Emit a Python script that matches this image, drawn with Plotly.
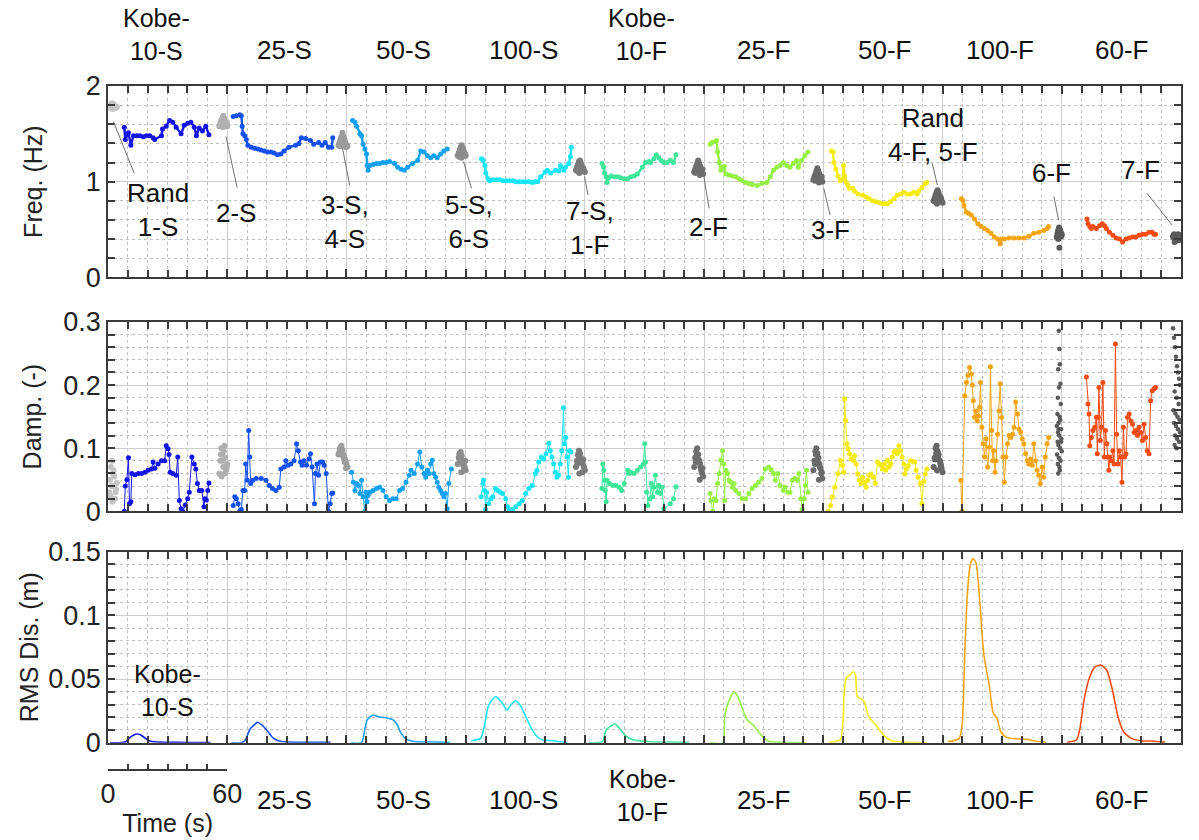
import plotly.graph_objects as go

# ---------------- data ----------------
# Kobe shake-table tests (each occupies a 60 s slot on the time axis)
test_names = ["Kobe-10-S", "25-S", "50-S", "100-S", "Kobe-10-F", "25-F", "50-F", "100-F", "60-F"]
test_start = [0, 60, 120, 180, 240, 300, 360, 420, 480]  # s

# --- Kobe-10-S
s1_ft = [8.2, 8.7, 10.3, 11.5, 12.8, 14.5, 16.1, 17.8, 19.4, 21.0, 22.7, 23.5, 26.9, 27.4, 29.3, 31.0, 32.6, 34.3, 36.8, 38.4, 40.1, 41.7, 43.4, 44.5, 45.9, 47.5, 49.2, 50.8]
s1_f = [1.57, 1.44, 1.51, 1.38, 1.48, 1.48, 1.48, 1.47, 1.48, 1.48, 1.46, 1.44, 1.48, 1.55, 1.58, 1.64, 1.62, 1.57, 1.50, 1.59, 1.61, 1.62, 1.57, 1.48, 1.56, 1.53, 1.58, 1.49]
s1_dt = [8.2, 8.7, 9.5, 10.3, 10.8, 11.5, 12.0, 13.6, 15.3, 16.9, 18.6, 20.2, 21.9, 22.7, 23.6, 25.2, 26.9, 28.5, 29.3, 30.2, 30.7, 31.3, 32.6, 34.3, 35.1, 35.9, 36.8, 37.6, 38.9, 40.1, 40.9, 42.2, 43.4, 44.2, 45.0, 45.9, 47.2, 48.3, 48.8, 49.5, 50.2, 50.8]
s1_d = [0.0, 0.04, 0.05, 0.085, 0.012, 0.015, 0.06, 0.058, 0.06, 0.06, 0.062, 0.065, 0.067, 0.078, 0.068, 0.075, 0.08, 0.08, 0.104, 0.099, 0.09, 0.062, 0.06, 0.057, 0.086, 0.017, 0.004, 0.0, 0.01, 0.02, 0.03, 0.086, 0.075, 0.067, 0.044, 0.033, 0.033, 0.007, 0.02, 0.018, 0.033, 0.045]
s1_rt = [1, 6, 9, 11, 13, 14.5, 16, 18, 20, 22, 25, 30, 40, 51.6]
s1_r = [0, 0, 0.0008, 0.004, 0.006, 0.0068, 0.0065, 0.0045, 0.002, 0.001, 0.0005, 0.0003, 0.0002, 0.0002]

# --- 25-S
s2_ft = [3.0, 4.6, 6.3, 7.1, 7.5, 7.9, 8.8, 9.6, 10.4, 12.1, 13.7, 15.4, 17.0, 18.7, 20.3, 22.0, 23.6, 25.3, 27.0, 28.6, 31.1, 34.4, 36.1, 37.3, 39.4, 41.9, 43.5, 46.0, 47.7, 49.3, 51.0, 52.6, 53.1]
s2_f = [1.68, 1.69, 1.70, 1.69, 1.58, 1.50, 1.48, 1.44, 1.38, 1.36, 1.35, 1.34, 1.33, 1.32, 1.31, 1.31, 1.30, 1.28, 1.29, 1.32, 1.36, 1.38, 1.40, 1.46, 1.45, 1.43, 1.39, 1.41, 1.38, 1.41, 1.36, 1.36, 1.46]
s2_dt = [3.0, 3.8, 4.6, 5.5, 6.3, 7.1, 7.9, 8.8, 9.3, 10.1, 10.8, 11.3, 11.8, 12.9, 14.6, 17.1, 19.5, 21.2, 22.8, 24.5, 26.2, 27.0, 28.6, 29.5, 30.6, 32.0, 33.6, 34.9, 35.8, 36.9, 37.7, 38.6, 39.9, 41.1, 41.9, 42.7, 43.9, 44.4, 45.2, 46.0, 46.9, 48.0, 48.8, 49.8, 51.0, 51.8, 52.6, 53.1]
s2_d = [0.009, 0.023, 0.020, 0.012, 0.0, 0.003, 0.033, 0.033, 0.075, 0.049, 0.128, 0.086, 0.044, 0.049, 0.052, 0.052, 0.049, 0.041, 0.036, 0.033, 0.038, 0.067, 0.07, 0.08, 0.073, 0.075, 0.08, 0.107, 0.096, 0.078, 0.073, 0.08, 0.073, 0.083, 0.091, 0.07, 0.012, 0.06, 0.075, 0.057, 0.078, 0.078, 0.073, 0.06, 0.0, 0.012, 0.028, 0.029]
s2_rt = [2, 7, 9, 11.6, 14, 15, 17.4, 20.1, 22.9, 25.7, 30.5, 40, 52]
s2_r = [0, 0, 0.002, 0.011, 0.0145, 0.016, 0.014, 0.0095, 0.004, 0.0015, 0.0005, 0.0003, 0.0003]

# --- 50-S
s3_ft = [3.1, 4.3, 5.1, 6.8, 7.6, 8.4, 9.3, 10.1, 10.4, 10.9, 11.8, 13.4, 15.1, 16.7, 18.4, 20.0, 21.7, 24.2, 25.8, 27.5, 29.1, 30.8, 33.3, 35.8, 37.4, 39.1, 40.7, 42.4, 44.0, 45.7, 47.4, 49.0, 50.7]
s3_f = [1.64, 1.62, 1.58, 1.50, 1.48, 1.39, 1.34, 1.29, 1.17, 1.12, 1.17, 1.18, 1.19, 1.19, 1.20, 1.20, 1.21, 1.19, 1.15, 1.13, 1.12, 1.15, 1.19, 1.22, 1.32, 1.31, 1.27, 1.25, 1.27, 1.25, 1.29, 1.32, 1.34]
s3_dt = [2.6, 3.5, 4.3, 5.1, 6.0, 6.8, 7.6, 8.4, 9.3, 9.8, 10.4, 10.9, 11.8, 13.4, 15.1, 16.7, 18.4, 20.0, 21.7, 23.3, 25.0, 26.7, 28.3, 30.0, 31.6, 32.5, 34.1, 35.8, 36.9, 37.9, 39.1, 39.9, 40.7, 41.6, 42.4, 43.2, 44.0, 44.9, 45.7, 46.5, 47.4, 48.2, 49.0, 49.8, 50.7, 51.5, 52.8]
s3_d = [0.062, 0.046, 0.033, 0.044, 0.041, 0.028, 0.049, 0.023, 0.0, 0.03, 0.015, 0.025, 0.03, 0.033, 0.036, 0.038, 0.033, 0.023, 0.017, 0.02, 0.02, 0.033, 0.036, 0.046, 0.057, 0.065, 0.06, 0.075, 0.094, 0.07, 0.06, 0.054, 0.065, 0.06, 0.075, 0.081, 0.06, 0.054, 0.046, 0.038, 0.033, 0.028, 0.023, 0.028, 0.004, 0.044, 0.067]
s3_rt = [2.5, 7.6, 9.5, 10.4, 13.3, 16.1, 19.9, 23.7, 25.6, 27.5, 30.3, 35.1, 44.5, 52.2]
s3_r = [0, 0, 0.0126, 0.0178, 0.0217, 0.0204, 0.0196, 0.0178, 0.0139, 0.0073, 0.0026, 0.0008, 0.0005, 0.0002]

# --- 100-S
s4_ft = [8.0, 8.8, 9.7, 10.1, 11.3, 12.1, 13.8, 15.5, 17.1, 18.8, 20.4, 22.0, 23.7, 25.3, 27.0, 28.7, 30.3, 32.0, 33.7, 35.0, 36.2, 37.8, 40.0, 41.1, 42.8, 45.3, 46.9, 47.7, 49.4, 50.2, 51.9, 52.7, 53.2]
s4_f = [1.24, 1.22, 1.17, 1.09, 1.03, 1.01, 1.02, 1.02, 1.02, 1.01, 1.01, 1.01, 1.01, 1.0, 1.0, 1.0, 1.0, 1.0, 0.99, 1.0, 1.0, 1.05, 1.10, 1.12, 1.09, 1.12, 1.11, 1.17, 1.12, 1.15, 1.19, 1.26, 1.36]
s4_dt = [7.8, 8.7, 9.0, 9.5, 10.0, 10.6, 11.6, 12.8, 13.6, 15.0, 16.1, 17.3, 18.6, 20.2, 21.1, 21.9, 23.6, 25.2, 26.9, 28.5, 30.2, 31.8, 33.5, 35.1, 35.9, 36.8, 38.1, 39.3, 40.4, 41.8, 42.6, 43.4, 44.3, 45.1, 45.9, 46.7, 47.6, 48.4, 49.2, 49.7, 50.4, 51.0, 51.7, 52.2, 53.0]
s4_d = [0.023, 0.044, 0.049, 0.033, 0.003, 0.03, 0.012, 0.02, 0.023, 0.036, 0.033, 0.03, 0.028, 0.02, 0.007, 0.003, 0.003, 0.007, 0.012, 0.017, 0.028, 0.036, 0.041, 0.06, 0.065, 0.078, 0.086, 0.083, 0.091, 0.108, 0.096, 0.086, 0.075, 0.062, 0.054, 0.057, 0.075, 0.096, 0.164, 0.107, 0.117, 0.086, 0.054, 0.096, 0.094]
s4_rt = [2.8, 7.5, 9.4, 11.3, 13.2, 15.1, 18.0, 20.8, 22.7, 25.0, 27.4, 30.3, 33.1, 36.0, 38.8, 43.5, 47.4, 51.1]
s4_r = [0.0016, 0.0034, 0.0126, 0.0283, 0.0335, 0.0361, 0.0322, 0.0257, 0.0296, 0.0330, 0.0296, 0.0204, 0.0113, 0.0047, 0.0021, 0.0016, 0.0008, 0.0]

# --- Kobe-10-F
s5_ft = [8.6, 9.5, 9.9, 10.7, 11.2, 11.9, 13.2, 14.8, 16.5, 18.1, 19.8, 21.5, 23.1, 24.8, 26.4, 28.9, 30.6, 32.2, 33.0, 34.7, 36.0, 37.2, 38.4, 39.7, 41.3, 43.0, 44.6, 45.8]
s5_f = [1.19, 1.15, 1.09, 1.05, 0.99, 1.04, 1.06, 1.05, 1.05, 1.04, 1.03, 1.03, 1.05, 1.06, 1.08, 1.15, 1.20, 1.21, 1.20, 1.24, 1.28, 1.25, 1.22, 1.20, 1.20, 1.22, 1.20, 1.28]
s5_dt = [8.6, 9.0, 9.5, 9.9, 10.2, 10.7, 11.2, 12.4, 14.0, 15.7, 17.3, 18.5, 19.8, 21.5, 22.3, 23.1, 24.8, 26.4, 28.1, 29.4, 30.1, 30.6, 31.1, 31.7, 32.7, 33.4, 34.1, 34.7, 35.5, 36.4, 37.2, 38.0, 38.9, 39.7, 43.0, 44.6, 45.8]
s5_d = [0.036, 0.075, 0.065, 0.049, 0.033, 0.015, 0.049, 0.044, 0.041, 0.041, 0.038, 0.033, 0.044, 0.065, 0.060, 0.062, 0.060, 0.065, 0.07, 0.075, 0.107, 0.078, 0.03, 0.009, 0.02, 0.044, 0.023, 0.038, 0.057, 0.03, 0.041, 0.028, 0.038, 0.004, 0.012, 0.02, 0.039]
s5_rt = [2, 8.8, 10.7, 12.6, 15.1, 17.4, 20.2, 23.1, 26.9, 32.6, 42.1, 52.5]
s5_r = [0, 0.0008, 0.01, 0.0126, 0.0147, 0.0113, 0.006, 0.0029, 0.0016, 0.0008, 0.0005, 0.0002]

# --- 25-F
s6_ft = [3.0, 4.0, 5.6, 6.3, 6.8, 7.6, 8.4, 9.3, 10.1, 10.9, 12.5, 14.2, 15.9, 17.5, 19.2, 20.9, 22.5, 24.2, 26.7, 29.1, 31.6, 33.3, 34.9, 36.6, 38.2, 39.9, 41.6, 43.2, 44.9, 46.5, 47.4, 49.0, 50.7, 52.3]
s6_f = [1.39, 1.41, 1.42, 1.43, 1.31, 1.20, 1.12, 1.15, 1.16, 1.08, 1.07, 1.06, 1.05, 1.03, 1.01, 0.99, 0.98, 0.97, 0.96, 0.98, 0.99, 1.05, 1.12, 1.15, 1.17, 1.20, 1.17, 1.15, 1.19, 1.22, 1.15, 1.22, 1.27, 1.31]
s6_dt = [3.0, 3.5, 4.3, 5.1, 6.0, 6.8, 7.6, 8.4, 9.3, 9.8, 10.3, 10.9, 11.8, 12.6, 13.4, 14.2, 15.1, 15.9, 17.5, 19.2, 20.9, 22.5, 24.2, 25.8, 27.5, 29.1, 30.8, 32.5, 33.8, 34.9, 35.8, 37.1, 38.2, 39.9, 40.7, 42.1, 43.2, 44.4, 45.7, 47.0, 47.7, 48.7, 49.3, 50.3, 51.0, 51.5, 52.3]
s6_d = [0.028, 0.017, 0.0, 0.02, 0.017, 0.044, 0.06, 0.081, 0.096, 0.075, 0.017, 0.065, 0.06, 0.049, 0.046, 0.038, 0.044, 0.033, 0.028, 0.02, 0.02, 0.028, 0.036, 0.041, 0.046, 0.052, 0.067, 0.07, 0.066, 0.06, 0.049, 0.06, 0.041, 0.033, 0.038, 0.03, 0.03, 0.049, 0.052, 0.049, 0.06, 0.02, 0.003, 0.02, 0.041, 0.065, 0.03]
s6_rt = [2.8, 9.4, 10.4, 12.3, 15.1, 17.0, 18.9, 21.7, 24.6, 27.4, 30.3, 33.1, 38.8, 51.1]
s6_r = [0, 0, 0.0204, 0.0322, 0.040, 0.0361, 0.0283, 0.0178, 0.0139, 0.0086, 0.0034, 0.001, 0.0003, 0]

# --- 50-F
s7_ft = [4.1, 4.9, 5.3, 6.3, 7.4, 8.6, 9.9, 10.2, 10.7, 11.6, 12.4, 13.2, 14.9, 15.7, 17.4, 19.8, 21.5, 23.1, 24.8, 26.5, 28.1, 29.8, 31.0, 32.3, 33.9, 35.6, 37.2, 38.9, 40.5, 42.2, 43.8, 45.5, 47.2, 48.0, 49.6, 51.3, 52.1]
s7_f = [1.32, 1.31, 1.20, 1.13, 1.06, 1.01, 1.03, 1.17, 1.06, 0.99, 0.96, 0.93, 0.93, 0.90, 0.87, 0.86, 0.84, 0.82, 0.80, 0.79, 0.78, 0.77, 0.77, 0.77, 0.79, 0.82, 0.86, 0.87, 0.89, 0.87, 0.87, 0.89, 0.87, 0.90, 0.94, 0.98, 0.99]
s7_dt = [2.5, 3.6, 4.6, 5.8, 7.4, 8.6, 9.6, 10.2, 10.7, 11.2, 11.9, 12.5, 13.2, 14.0, 14.9, 15.7, 16.5, 17.3, 18.2, 19.0, 19.8, 20.7, 21.5, 22.3, 23.1, 24.0, 25.1, 26.1, 27.3, 28.1, 28.9, 29.8, 30.6, 31.4, 32.3, 33.1, 33.9, 34.7, 35.6, 36.4, 37.2, 38.0, 38.9, 39.7, 40.5, 41.0, 41.7, 42.7, 43.8, 45.0, 46.0, 46.7, 47.7, 48.8, 49.6, 50.5, 51.3, 52.1]
s7_d = [0.0, 0.009, 0.023, 0.038, 0.06, 0.081, 0.073, 0.062, 0.178, 0.144, 0.107, 0.099, 0.091, 0.083, 0.081, 0.088, 0.075, 0.059, 0.049, 0.044, 0.054, 0.046, 0.038, 0.049, 0.057, 0.059, 0.054, 0.044, 0.078, 0.075, 0.073, 0.067, 0.075, 0.065, 0.081, 0.07, 0.075, 0.086, 0.094, 0.096, 0.091, 0.104, 0.096, 0.086, 0.075, 0.059, 0.067, 0.072, 0.080, 0.079, 0.078, 0.065, 0.054, 0.044, 0.012, 0.047, 0.059, 0.067]
s7_rt = [2.9, 8.6, 10.5, 11.4, 13.3, 15.2, 16.2, 17.1, 18.7, 20.6, 22.8, 25.7, 30.4, 34.2, 39.9, 52.3]
s7_r = [0.0002, 0.0026, 0.0388, 0.0505, 0.0531, 0.0557, 0.0531, 0.0361, 0.0348, 0.0322, 0.0204, 0.0152, 0.006, 0.0016, 0.0005, 0]

# --- 100-F
s8_ft = [9.5, 10.3, 10.8, 12.0, 13.1, 14.5, 16.1, 17.8, 19.4, 21.1, 22.7, 24.4, 26.1, 27.7, 29.0, 29.7, 31.0, 33.5, 36.0, 38.5, 41.0, 43.5, 45.9, 48.4, 50.9, 52.6, 53.4]
s8_f = [0.82, 0.80, 0.75, 0.68, 0.67, 0.65, 0.61, 0.56, 0.53, 0.51, 0.49, 0.46, 0.42, 0.40, 0.35, 0.40, 0.40, 0.41, 0.41, 0.41, 0.41, 0.43, 0.46, 0.47, 0.49, 0.51, 0.53]
s8_dt = [9.2, 9.8, 11.2, 12.0, 12.8, 13.6, 14.5, 15.0, 15.5, 16.1, 16.8, 17.5, 18.1, 18.6, 19.1, 19.8, 20.4, 21.1, 21.9, 22.7, 23.6, 24.1, 24.7, 25.2, 25.7, 26.4, 26.9, 27.7, 28.5, 29.0, 29.7, 30.4, 31.1, 31.9, 32.7, 33.5, 34.3, 35.2, 36.0, 36.8, 37.7, 38.5, 39.3, 40.1, 40.9, 41.8, 42.6, 43.4, 44.3, 45.1, 45.9, 46.8, 47.6, 48.4, 49.2, 50.1, 50.9, 51.7, 52.6, 53.4]
s8_d = [0.049, 0.0, 0.183, 0.204, 0.215, 0.228, 0.217, 0.2, 0.175, 0.149, 0.159, 0.143, 0.151, 0.165, 0.204, 0.133, 0.107, 0.086, 0.115, 0.07, 0.102, 0.229, 0.128, 0.08, 0.096, 0.062, 0.08, 0.122, 0.159, 0.202, 0.149, 0.086, 0.046, 0.086, 0.107, 0.12, 0.117, 0.122, 0.133, 0.173, 0.154, 0.130, 0.125, 0.115, 0.107, 0.091, 0.080, 0.075, 0.083, 0.073, 0.107, 0.080, 0.065, 0.057, 0.044, 0.07, 0.054, 0.086, 0.107, 0.117]
s8_rt = [2.7, 8.4, 9.9, 11.2, 12.5, 14.1, 15.4, 16.9, 18.8, 20.7, 23.6, 25.5, 27.4, 29.3, 32.2, 36.9, 42.6, 46.4, 52.1]
s8_r = [0.0008, 0.0034, 0.0152, 0.0702, 0.1173, 0.1408, 0.1447, 0.1408, 0.1094, 0.0702, 0.044, 0.0231, 0.0191, 0.0086, 0.0042, 0.0031, 0.0026, 0.0013, 0.0003]

# --- 60-F
s9_ft = [12.7, 13.2, 14.1, 14.9, 15.7, 17.4, 19.0, 20.4, 21.5, 22.4, 24.0, 25.7, 27.3, 29.0, 30.6, 32.3, 33.9, 35.6, 37.3, 38.9, 40.6, 42.2, 43.9, 45.5, 46.4, 47.2]
s9_f = [0.61, 0.56, 0.53, 0.51, 0.53, 0.51, 0.54, 0.56, 0.54, 0.51, 0.47, 0.44, 0.41, 0.40, 0.37, 0.40, 0.41, 0.42, 0.42, 0.44, 0.45, 0.45, 0.47, 0.47, 0.45, 0.45]
s9_dt = [12.4, 13.2, 13.7, 14.1, 14.9, 15.7, 16.6, 17.4, 17.9, 18.4, 18.7, 19.4, 20.0, 20.7, 21.4, 22.0, 22.7, 23.2, 23.7, 24.3, 24.8, 25.7, 26.3, 27.0, 27.6, 28.3, 29.0, 29.6, 30.3, 31.0, 31.6, 32.3, 33.1, 33.9, 34.8, 35.6, 36.4, 37.3, 38.1, 38.9, 39.7, 40.6, 41.4, 42.2, 43.0, 43.9, 44.7, 45.5, 46.4, 47.2]
s9_d = [0.213, 0.17, 0.154, 0.104, 0.117, 0.128, 0.133, 0.149, 0.091, 0.149, 0.196, 0.112, 0.133, 0.204, 0.086, 0.128, 0.107, 0.086, 0.065, 0.086, 0.08, 0.096, 0.075, 0.265, 0.122, 0.075, 0.096, 0.086, 0.046, 0.133, 0.086, 0.091, 0.149, 0.154, 0.143, 0.138, 0.125, 0.128, 0.12, 0.133, 0.125, 0.112, 0.138, 0.117, 0.096, 0.091, 0.175, 0.191, 0.194, 0.196]
s9_rt = [2.6, 7.4, 9.3, 11.2, 14.1, 16.9, 19.7, 22.6, 25.5, 28.3, 31.1, 35.0, 39.7, 45.4, 52.1]
s9_r = [0.0003, 0.0021, 0.0126, 0.0335, 0.0518, 0.0597, 0.061, 0.0571, 0.0414, 0.0204, 0.0086, 0.0034, 0.0016, 0.0013, 0.0003]

# Random-excitation tests (global time, s)
rand_names = ["1-S", "2-S", "3-S, 4-S", "5-S, 6-S", "7-S, 1-F", "2-F", "3-F", "4-F, 5-F", "6-F", "7-F"]
r1_t = [0.5, 1.0, 1.5, 2.0, 2.5, 3.0, 3.5, 4.0, 4.5, 1.2, 2.2, 3.2, 2.8, 1.8, 0.8, 3.8]
r1_f = [1.79, 1.80, 1.81, 1.82, 1.80, 1.79, 1.78, 1.77, 1.78, 1.77, 1.76, 1.77, 1.81, 1.79, 1.78, 1.79]
r1_d = [0.03, 0.05, 0.07, 0.08, 0.06, 0.04, 0.02, 0.035, 0.045, 0.025, 0.015, 0.055, 0.065, 0.04, 0.05, 0.03]
r2_t = [56, 56.5, 57, 57.5, 58, 58.5, 59, 59.5, 60, 57.2, 58.2, 59.2, 56.8, 58.8, 57.8, 59.8]
r2_f = [1.58, 1.61, 1.64, 1.66, 1.69, 1.66, 1.63, 1.60, 1.58, 1.60, 1.62, 1.61, 1.59, 1.58, 1.57, 1.62]
r2_d = [0.06, 0.08, 0.10, 0.09, 0.07, 0.104, 0.085, 0.065, 0.075, 0.055, 0.095, 0.07, 0.09, 0.06, 0.08, 0.07]
r3_t = [116, 116.5, 117, 117.5, 118, 118.5, 119, 119.5, 120, 120.5, 117.2, 118.2, 119.2, 116.8, 118.8, 119.8]
r3_f = [1.38, 1.41, 1.44, 1.47, 1.51, 1.47, 1.44, 1.41, 1.38, 1.37, 1.40, 1.43, 1.40, 1.37, 1.38, 1.36]
r3_d = [0.09, 0.095, 0.1, 0.104, 0.097, 0.09, 0.085, 0.08, 0.075, 0.07, 0.092, 0.088, 0.078, 0.1, 0.082, 0.068]
r4_t = [176, 176.5, 177, 177.5, 178, 178.5, 179, 179.5, 180, 177.2, 178.2, 179.2, 176.8, 178.8, 177.8, 179.8]
r4_f = [1.27, 1.30, 1.33, 1.36, 1.38, 1.35, 1.32, 1.29, 1.27, 1.28, 1.31, 1.30, 1.26, 1.27, 1.25, 1.28]
r4_d = [0.075, 0.085, 0.092, 0.094, 0.088, 0.08, 0.075, 0.07, 0.065, 0.082, 0.078, 0.068, 0.09, 0.072, 0.062, 0.08]
r5_t = [235.5, 236, 236.5, 237, 237.5, 238, 238.5, 239, 239.5, 240, 236.8, 237.8, 238.8, 236.2, 237.2, 239.2]
r5_f = [1.12, 1.15, 1.18, 1.21, 1.22, 1.19, 1.16, 1.13, 1.11, 1.10, 1.14, 1.17, 1.12, 1.11, 1.09, 1.14]
r5_d = [0.07, 0.08, 0.09, 0.096, 0.092, 0.085, 0.08, 0.075, 0.07, 0.065, 0.088, 0.078, 0.062, 0.075, 0.06, 0.082]
r6_t = [295, 295.5, 296, 296.5, 297, 297.5, 298, 298.5, 299, 299.5, 296.2, 297.2, 298.2, 295.8, 297.8, 299.2]
r6_f = [1.10, 1.13, 1.16, 1.19, 1.22, 1.19, 1.16, 1.13, 1.10, 1.08, 1.12, 1.15, 1.11, 1.09, 1.07, 1.13]
r6_d = [0.07, 0.085, 0.095, 0.10, 0.09, 0.08, 0.075, 0.065, 0.06, 0.055, 0.088, 0.082, 0.07, 0.078, 0.05, 0.068]
r7_t = [355, 355.5, 356, 356.5, 357, 357.5, 358, 358.5, 359, 359.5, 356.2, 357.2, 358.2, 355.8, 357.8, 359.2]
r7_f = [1.02, 1.05, 1.08, 1.11, 1.14, 1.11, 1.08, 1.05, 1.02, 1.00, 1.04, 1.07, 1.03, 1.01, 0.99, 1.05]
r7_d = [0.065, 0.08, 0.095, 0.1, 0.092, 0.085, 0.075, 0.068, 0.06, 0.052, 0.09, 0.08, 0.07, 0.075, 0.05, 0.062]
r8_t = [415.5, 416, 416.5, 417, 417.5, 418, 418.5, 419, 419.5, 420, 416.8, 417.8, 418.8, 416.2, 417.2, 419.2]
r8_f = [0.80, 0.83, 0.86, 0.89, 0.91, 0.88, 0.85, 0.82, 0.80, 0.78, 0.82, 0.85, 0.80, 0.79, 0.77, 0.83]
r8_d = [0.07, 0.085, 0.1, 0.104, 0.095, 0.09, 0.08, 0.075, 0.068, 0.062, 0.092, 0.086, 0.078, 0.082, 0.065, 0.072]
r9_t = [478.5, 478.8, 479.0, 478.2, 479.3, 478.6, 478.0, 479.5, 477.8, 478.9, 479.2, 478.4, 477.5, 479.6, 478.1, 478.7, 479.8, 477.9, 478.3, 479.1, 480.0, 477.6, 478.5, 479.4, 478.0, 478.8, 479.0, 478.2, 479.7, 478.4]
r9_f = [0.47, 0.45, 0.50, 0.43, 0.48, 0.52, 0.44, 0.46, 0.41, 0.49, 0.47, 0.45, 0.42, 0.44, 0.48, 0.51, 0.43, 0.46, 0.40, 0.47, 0.45, 0.42, 0.49, 0.44, 0.46, 0.31, 0.48, 0.43, 0.45, 0.50]
r9_d = [0.286, 0.257, 0.233, 0.225, 0.202, 0.196, 0.18, 0.17, 0.154, 0.15, 0.145, 0.14, 0.135, 0.13, 0.125, 0.12, 0.115, 0.11, 0.105, 0.10, 0.095, 0.09, 0.085, 0.08, 0.075, 0.07, 0.065, 0.06, 0.11, 0.13]
r10_t = [536, 536.5, 537, 537.5, 538, 538.5, 539, 539.5, 536.8, 537.8, 538.8, 536.2, 537.2, 538.2, 539.2, 536.5, 537.5, 538.5, 539.5, 537, 538, 539, 536.8, 537.8]
r10_f = [0.43, 0.41, 0.44, 0.40, 0.42, 0.45, 0.39, 0.43, 0.41, 0.44, 0.40, 0.42, 0.38, 0.43, 0.41, 0.45, 0.39, 0.42, 0.44, 0.40, 0.43, 0.41, 0.37, 0.42]
r10_d = [0.29, 0.275, 0.26, 0.245, 0.23, 0.22, 0.21, 0.2, 0.19, 0.18, 0.17, 0.16, 0.155, 0.15, 0.145, 0.14, 0.135, 0.13, 0.125, 0.12, 0.115, 0.11, 0.105, 0.10]

# --------------- styling ---------------
test_colors = ["#1414e6", "#1450f0", "#14a0f0", "#14e6f5", "#3ce69b", "#96f046", "#f5eb14", "#f5a514", "#f54b14"]
rand_colors = ["#c4c4c4", "#b0b0b0", "#9c9c9c", "#8c8c8c", "#7a7a7a", "#6e6e6e", "#6a6a6a", "#666666", "#595959", "#595959"]
rand_dsize = [6, 6, 6, 6, 6, 6, 6, 6, 4.5, 4.5]
FONT = "Arial, Liberation Sans, sans-serif"
FS = 25      # annotation / title size
FS_TICK = 27

freq_t = [s1_ft, s2_ft, s3_ft, s4_ft, s5_ft, s6_ft, s7_ft, s8_ft, s9_ft]
freq_v = [s1_f, s2_f, s3_f, s4_f, s5_f, s6_f, s7_f, s8_f, s9_f]
damp_t = [s1_dt, s2_dt, s3_dt, s4_dt, s5_dt, s6_dt, s7_dt, s8_dt, s9_dt]
damp_v = [s1_d, s2_d, s3_d, s4_d, s5_d, s6_d, s7_d, s8_d, s9_d]
rms_t = [s1_rt, s2_rt, s3_rt, s4_rt, s5_rt, s6_rt, s7_rt, s8_rt, s9_rt]
rms_v = [s1_r, s2_r, s3_r, s4_r, s5_r, s6_r, s7_r, s8_r, s9_r]
rand_t = [r1_t, r2_t, r3_t, r4_t, r5_t, r6_t, r7_t, r8_t, r9_t, r10_t]
rand_f = [r1_f, r2_f, r3_f, r4_f, r5_f, r6_f, r7_f, r8_f, r9_f, r10_f]
rand_d = [r1_d, r2_d, r3_d, r4_d, r5_d, r6_d, r7_d, r8_d, r9_d, r10_d]

for group in (zip(freq_t, freq_v), zip(damp_t, damp_v), zip(rms_t, rms_v)):
    for a, b in group:
        assert len(a) == len(b), (len(a), len(b))
for a, b, c in zip(rand_t, rand_f, rand_d):
    assert len(a) == len(b) == len(c)

fig = go.Figure()

# random tests (grey clusters)
for i in range(len(rand_names)):
    col = rand_colors[i]
    fig.add_trace(go.Scatter(x=rand_t[i], y=rand_f[i], mode="markers", name="Rand " + rand_names[i],
                             marker=dict(size=6, color=col), xaxis="x", yaxis="y", showlegend=False))
    fig.add_trace(go.Scatter(x=rand_t[i], y=rand_d[i], mode="markers", name="Rand " + rand_names[i],
                             marker=dict(size=rand_dsize[i], color=col), xaxis="x2", yaxis="y2", showlegend=False))

# Kobe tests
for i in range(len(test_names)):
    c = test_colors[i]
    t0 = test_start[i]
    fig.add_trace(go.Scatter(x=[t0 + t for t in freq_t[i]], y=freq_v[i], mode="lines+markers", name=test_names[i],
                             line=dict(color=c, width=2.4), marker=dict(size=5, color=c),
                             xaxis="x", yaxis="y", showlegend=False))
    fig.add_trace(go.Scatter(x=[t0 + t for t in damp_t[i]], y=damp_v[i], mode="lines+markers", name=test_names[i],
                             line=dict(color=c, width=1), marker=dict(size=5, color=c),
                             xaxis="x2", yaxis="y2", showlegend=False))
    fig.add_trace(go.Scatter(x=[t0 + t for t in rms_t[i]], y=rms_v[i], mode="lines", name=test_names[i],
                             line=dict(color=c, width=1.6, shape="spline", smoothing=0.6),
                             xaxis="x3", yaxis="y3", showlegend=False))

# empty trace to carry the time scale bar axis
fig.add_trace(go.Scatter(x=[], y=[], xaxis="x4", yaxis="y4", showlegend=False, hoverinfo="skip"))

axis_line = "#3a3a3a"
grid_major = "#cdcdcd"
grid_minor = "#c2c2c2"

def xaxis_style(anchor, match=None):
    d = dict(range=[0, 540], tickvals=list(range(0, 541, 60)), showticklabels=False,
             ticks="inside", ticklen=8, tickcolor=axis_line, tickwidth=1.6,
             showgrid=True, gridcolor=grid_major, gridwidth=1.3,
             showline=True, linecolor=axis_line, linewidth=1.6, mirror="allticks",
             zeroline=False, anchor=anchor, domain=[0, 1],
             minor=dict(dtick=10, tick0=0, ticks="inside", ticklen=7, tickcolor=axis_line, tickwidth=1.5,
                        showgrid=True, gridcolor=grid_minor, griddash="dot", gridwidth=1))
    if match:
        d["matches"] = match
    return d

def yaxis_style(dom, rng, dtick, mdtick, title, standoff):
    return dict(domain=dom, range=rng, dtick=dtick, tick0=0,
                ticks="inside", ticklen=7, tickcolor=axis_line, tickwidth=1.5,
                showgrid=True, gridcolor=grid_major, gridwidth=1.3,
                showline=True, linecolor=axis_line, linewidth=1.6, mirror="allticks",
                zeroline=False, automargin=False,
                tickfont=dict(family=FONT, size=FS_TICK, color="#222"),
                title=dict(text=title, font=dict(family=FONT, size=FS, color="#222"), standoff=standoff),
                minor=dict(dtick=mdtick, ticks="inside", ticklen=7, tickcolor=axis_line, tickwidth=1.5,
                           showgrid=True, gridcolor=grid_minor, griddash="dot", gridwidth=1))

fig.update_layout(
    width=1199, height=840,
    margin=dict(l=108, r=3, t=86, b=20),
    paper_bgcolor="white", plot_bgcolor="white",
    font=dict(family=FONT, size=FS, color="#222"),
    xaxis=xaxis_style("y"),
    xaxis2=xaxis_style("y2", "x"),
    xaxis3=xaxis_style("y3", "x"),
    yaxis=yaxis_style([0.7394, 1.0], [0, 2], 1, 0.2, "Freq. (Hz)", 36),
    yaxis2=yaxis_style([0.4206, 0.6785], [0, 0.3], 0.1, 0.02, "Damp. (-)", 14),
    yaxis3=yaxis_style([0.1053, 0.3655], [0, 0.15], 0.05, 0.01, "RMS Dis. (m)", 2),
    xaxis4=dict(domain=[0, 60 / 540], anchor="y4", range=[0, 60], tickvals=[0, 60], ticktext=["0", "60"],
                ticks="inside", ticklen=10, tickcolor=axis_line, tickwidth=1.5,
                showline=True, linecolor=axis_line, linewidth=1.5, showgrid=False, zeroline=False,
                tickfont=dict(family=FONT, size=FS_TICK, color="#222"),
                title=dict(text="Time (s)", font=dict(family=FONT, size=FS, color="#222"), standoff=0),
                minor=dict(dtick=10, ticks="inside", ticklen=5, tickcolor=axis_line, tickwidth=1.5, showgrid=False)),
    yaxis4=dict(domain=[0.070, 0.071], range=[0, 1], visible=False),
)

LAB = dict(family=FONT, size=FS + 1, color="#111")
LAB2 = dict(family=FONT, size=FS, color="#111")

# top test labels
top_labels = ["Kobe-<br>10-S", "25-S", "50-S", "100-S", "Kobe-<br>10-F", "25-F", "50-F", "100-F", "60-F"]
top_x = [24.5, 88.6, 148.7, 209.3, 268.5, 330, 391, 449, 510]
for lab, xv in zip(top_labels, top_x):
    two = "<br>" in lab
    fig.add_annotation(x=xv, y=(1.0695 if two else 1.049), xref="x", yref="paper", text=lab, showarrow=False,
                       xanchor="center", yanchor="middle", font=(LAB2 if two else LAB))

# bottom test labels
bottom_labels = ["25-S", "50-S", "100-S", "Kobe-<br>10-F", "25-F", "50-F", "100-F", "60-F"]
bottom_x = [88.6, 148.7, 209.3, 269, 330, 391, 449, 510]
for lab, xv in zip(bottom_labels, bottom_x):
    two = "<br>" in lab
    fig.add_annotation(x=xv, y=(0.0327 if two else 0.0272), xref="x", yref="paper", text=lab, showarrow=False,
                       xanchor="center", yanchor="middle", font=(LAB2 if two else LAB))

fig.add_annotation(x=30, y=0.041, xref="x3", yref="y3", text="Kobe-<br>10-S", showarrow=False, font=LAB2)

# random-test labels with leader lines (Freq panel)
rand_label_text = ["Rand<br>1-S", "2-S", "3-S,<br>4-S", "5-S,<br>6-S", "7-S,<br>1-F", "2-F", "3-F",
                   "Rand<br>4-F, 5-F", "6-F", "7-F"]
rand_label_pos = [(25.1, 0.70), (64.5, 0.67), (119.4, 0.58), (181.5, 0.58), (242.8, 0.52), (302, 0.53),
                  (363.8, 0.49), (415.4, 1.49), (475, 1.09), (519.7, 1.12)]
leader = [((2.4, 1.645), (13.2, 1.087)), ((59.2, 1.488), (65.0, 0.937)), ((117.9, 1.365), (121.6, 0.965)),
          ((178.7, 1.226), (182.9, 0.930)), ((239.6, 1.07), (241.6, 0.86)), ((299.6, 1.087), (302.5, 0.721)),
          ((360, 0.947), (363.4, 0.651)), ((414.6, 1.209), (417.4, 0.965)), ((475.9, 0.86), (478.4, 0.60)),
          ((522.2, 0.895), (535.5, 0.547))]
for txt, (lx, ly) in zip(rand_label_text, rand_label_pos):
    fig.add_annotation(x=lx, y=ly, xref="x", yref="y", text=txt, showarrow=False, font=LAB)
for (a, b) in leader:
    fig.add_annotation(x=b[0], y=b[1], ax=a[0], ay=a[1], xref="x", yref="y", axref="x", ayref="y",
                       text="", showarrow=True, arrowhead=0, arrowwidth=1, arrowcolor="#707070",
                       standoff=0, startstandoff=0)

# remove the browser's default 8 px body margin so the figure sits at the page origin; hide the mode bar
fig.write_html("out.html", config={"displayModeBar": False},
               post_script="document.body.style.margin='0px';document.documentElement.style.overflow='hidden';")
